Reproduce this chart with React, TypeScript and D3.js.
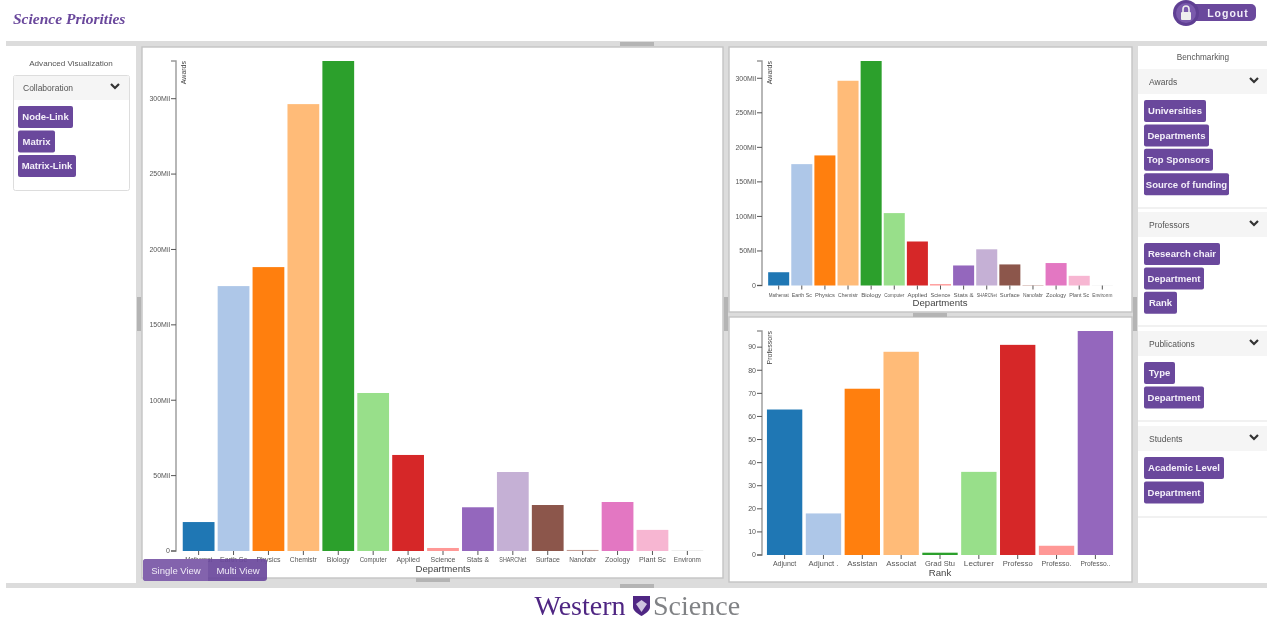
import React from "react";
import * as d3 from "d3";

const departments = ["Mathemat", "Earth Sc", "Physics", "Chemistr", "Biology", "Computer", "Applied", "Science", "Stats &", "SHARCNet", "Surface", "Nanofabr", "Zoology", "Plant Sc", "Environm"];
const awards = [19.2, 175.7, 188.3, 296.4, 325, 104.8, 63.7, 2, 29, 52.4, 30.5, 0.7, 32.5, 14, 0.2];
const ranks = ["Adjunct", "Adjunct .", "Assistan", "Associat", "Grad Stu", "Lecturer", "Professo", "Professo.", "Professo.."];
const professors = [63, 18, 72, 88, 1, 36, 91, 4, 97];
const palette = ["#1f77b4", "#aec7e8", "#ff7f0e", "#ffbb78", "#2ca02c", "#98df8a", "#d62728", "#ff9896", "#9467bd", "#c5b0d5", "#8c564b", "#c49c94", "#e377c2", "#f7b6d2", "#c7c7c7"];
const leftButtons = ["Node-Link", "Matrix", "Matrix-Link"];
const rightGroups = [
  { title: "Awards", items: ["Universities", "Departments", "Top Sponsors", "Source of funding"] },
  { title: "Professors", items: ["Research chair", "Department", "Rank"] },
  { title: "Publications", items: ["Type", "Department"] },
  { title: "Students", items: ["Academic Level", "Department"] },
];
const leftButtonWidths = [55, 37, 58];
const rightButtonWidths = [[62, 65, 69, 85], [76, 60, 33], [31, 60], [80, 60]];
const groupTops = [69, 212, 331, 426];
const groupBottoms = [208, 326, 421, 517];

const SANS = "'Liberation Sans', Arial, sans-serif";
const PURPLE = "#6a489c";

type ChartProps = {
  cats: string[]; vals: number[]; max: number; x0: number; x1: number; y0: number; y1: number; axisX: number;
  yLabel: string; xLabel: string; xLabelY: number; suffix: string; step: number; font: number; maxW: number; titleX: number;
};

function BarChart({ cats, vals, max, x0, x1, y0, y1, axisX, yLabel, xLabel, xLabelY, suffix, step, font, maxW, titleX }: ChartProps) {
  const x = d3.scaleBand<string>().domain(cats.map((c, i) => c + i)).range([x0, x1]).paddingInner(0.09).paddingOuter(0.05);
  const y = d3.scaleLinear().domain([0, max]).range([y0, y1]);
  const ticks = d3.range(0, max, step);
  const fmt = (t: number) => (t === 0 ? "0" : `${t}${suffix}`);
  return (
    <g fontFamily={SANS}>
      {vals.map((v, i) => (
        <rect key={i} x={x(cats[i] + i)} width={x.bandwidth()} y={y(v)} height={y0 - y(v)} fill={palette[i]} />
      ))}
      <path d={`M${axisX - 5},${y1}H${axisX}V${y0}H${axisX - 5}`} fill="none" stroke="#999" strokeWidth={1.4} />
      {ticks.map((t) => (
        <g key={t} transform={`translate(0,${y(t)})`}>
          <line x1={axisX - 5} x2={axisX} stroke="#555" strokeWidth={1} />
          <text x={axisX - 6} dy="0.33em" textAnchor="end" fontSize={7} fill="#555">{fmt(t)}</text>
        </g>
      ))}
      <text transform={`translate(${axisX + 7.5},${y1}) rotate(-90)`} dy="0.3em" textAnchor="end" fontSize={7} fill="#444">{yLabel}</text>
      {cats.map((c, i) => {
        const cx = (x(c + i) as number) + x.bandwidth() / 2;
        const est = c.length * font * 0.55;
        return (
          <g key={i} transform={`translate(${cx},${y0})`}>
            <line y1={0} y2={4} stroke="#555" strokeWidth={1} />
            <text y={11.3} textAnchor="middle" fontSize={font} fill="#555" textLength={est > maxW ? maxW : undefined} lengthAdjust="spacingAndGlyphs">{c}</text>
          </g>
        );
      })}
      <text x={titleX} y={xLabelY} textAnchor="middle" fontSize={9.6} fill="#444">{xLabel}</text>
    </g>
  );
}

function Button({ x, y, w, h, label }: { x: number; y: number; w: number; h: number; label: string }) {
  return (
    <g>
      <rect x={x} y={y} width={w} height={h} rx={2} fill={PURPLE} />
      <text x={x + w / 2} y={y + h / 2 + 3.3} textAnchor="middle" fontSize={9.5} fontWeight="bold" fill="#f4f0fa" fontFamily={SANS}>{label}</text>
    </g>
  );
}

function Chevron({ x, y }: { x: number; y: number }) {
  return <path d={`M${x - 4},${y - 2}L${x},${y + 2}L${x + 4},${y - 2}`} fill="none" stroke="#333" strokeWidth={2.2} />;
}

export default function App() {
  return (
    <svg width={1272} height={621} style={{ position: "absolute", left: 0, top: 0, background: "#fff", filter: "blur(0.35px)" }} fontFamily={SANS}>
      {/* header */}
      <text x={13} y={24} fontFamily="'Liberation Serif', serif" fontStyle="italic" fontWeight="bold" fontSize={15.5} fill={PURPLE}>Science Priorities</text>
      <rect x={1180} y={4} width={76} height={17} rx={5} fill={PURPLE} />
      <circle cx={1186} cy={13} r={13} fill="#5f3f93" />
      <circle cx={1186} cy={13} r={10} fill="#7a5aac" />
      <rect x={1181} y={12} width={10} height={8} rx={1} fill="#eee" />
      <path d="M1183,12V9a3,3 0 0 1 6,0V12" fill="none" stroke="#eee" strokeWidth={1.6} />
      <text x={1228} y={16.5} textAnchor="middle" fontSize={10.5} fontWeight="bold" letterSpacing={1} fill="#f1edf8">Logout</text>

      {/* frame */}
      <rect x={6} y={41} width={1261} height={547} fill="#dcdcdc" />
      <rect x={620} y={42} width={34} height={4} fill="#b4b4b4" />
      <rect x={6} y={46} width={130} height={537} fill="#fff" />
      <rect x={142} y={47} width={581} height={531} fill="#fff" stroke="#c4c4c4" strokeWidth={1.4} />
      <rect x={729} y={47} width={403} height={265} fill="#fff" stroke="#c4c4c4" strokeWidth={1.4} />
      <rect x={729} y={317} width={403} height={265} fill="#fff" stroke="#c4c4c4" strokeWidth={1.4} />
      <rect x={1138} y={46} width={129} height={537} fill="#fff" />
      <rect x={137} y={297} width={4} height={34} fill="#b4b4b4" />
      <rect x={724} y={297} width={4} height={34} fill="#b4b4b4" />
      <rect x={1133} y={297} width={4} height={34} fill="#b4b4b4" />
      <rect x={913} y={313} width={34} height={4} fill="#b4b4b4" />
      <rect x={416} y={578} width={34} height={4} fill="#b4b4b4" />
      <rect x={620} y={584} width={34} height={4} fill="#b4b4b4" />

      {/* left panel */}
      <text x={71} y={66} textAnchor="middle" fontSize={8.1} fill="#555">Advanced Visualization</text>
      <rect x={13.5} y={75.5} width={116} height={115} rx={2} fill="#fff" stroke="#ddd" />
      <rect x={14} y={76} width={115} height={24} fill="#f5f5f5" />
      <text x={23} y={91} fontSize={8.5} fill="#555">Collaboration</text>
      <Chevron x={115} y={86} />
      {leftButtons.map((b, i) => (
        <Button key={b} x={18} y={106 + i * 24.5} w={leftButtonWidths[i]} h={22} label={b} />
      ))}

      {/* charts */}
      <BarChart cats={departments} vals={awards} max={325} x0={181} x1={705} y0={551} y1={61} axisX={176} yLabel="Awards" xLabel="Departments" xLabelY={571.5} suffix="Mil" step={50} font={7} maxW={27} titleX={443} />
      <BarChart cats={departments} vals={awards} max={325} x0={767} x1={1114} y0={285.5} y1={61} axisX={762} yLabel="Awards" xLabel="Departments" xLabelY={306} suffix="Mil" step={50} font={6} maxW={20} titleX={940} />
      <BarChart cats={ranks} vals={professors} max={97} x0={765} x1={1115} y0={555} y1={331} axisX={762} yLabel="Professors" xLabel="Rank" xLabelY={576} suffix="" step={10} font={7} maxW={30} titleX={940} />

      {/* view toggle */}
      <rect x={143} y={559} width={124} height={22} rx={3} fill="#6a489c" opacity={0.92} />
      <path d="M146,559H208V581H146a3,3 0 0 1 -3,-3V562a3,3 0 0 1 3,-3Z" fill="#8464ae" opacity={0.95} />
      <text x={176} y={573.5} textAnchor="middle" fontSize={9.5} fill="#efeaf6">Single View</text>
      <text x={238} y={573.5} textAnchor="middle" fontSize={9.5} fill="#efeaf6">Multi View</text>

      {/* right panel */}
      <text x={1203} y={60} textAnchor="middle" fontSize={8.2} fill="#555">Benchmarking</text>
      {rightGroups.map((g, gi) => (
        <g key={g.title}>
          <rect x={1138} y={groupTops[gi]} width={129} height={25} fill="#f5f5f5" />
          <text x={1149} y={groupTops[gi] + 15.5} fontSize={8.5} fill="#555">{g.title}</text>
          <Chevron x={1254} y={groupTops[gi] + 11} />
          {g.items.map((it, i) => (
            <Button key={it} x={1144} y={groupTops[gi] + 31 + i * 24.4} w={rightButtonWidths[gi][i]} h={22} label={it} />
          ))}
          <line x1={1138} x2={1267} y1={groupBottoms[gi]} y2={groupBottoms[gi]} stroke="#e3e3e3" />
        </g>
      ))}

      {/* footer logo */}
      <text x={534.5} y={615} fontFamily="'Liberation Serif', serif" fontSize={28} fill="#4f2683">Western</text>
      <path d="M633,596H650V607C650,611 645,614 641.500,616C638,614 633,611 633,607Z" fill="#4f2683" />
      <path d="M636,604L641.500,600L647,604L641.500,612Z" fill="#cfc4df" />
      <text x={653} y={615} fontFamily="'Liberation Serif', serif" fontSize={28} fill="#808285">Science</text>
    </svg>
  );
}
